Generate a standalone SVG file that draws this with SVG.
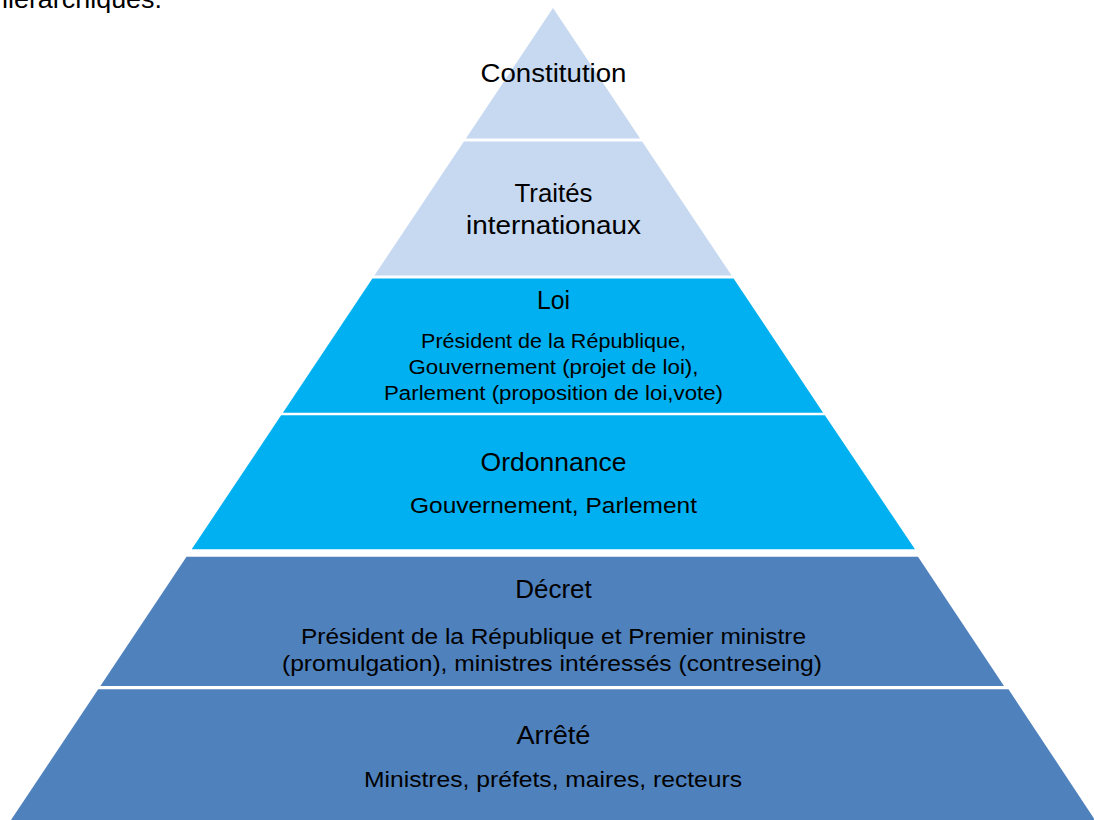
<svg xmlns="http://www.w3.org/2000/svg" width="1094" height="820" viewBox="0 0 1094 820">
  <style>
    .light { fill: #C6D9F1; }
    .cyan { fill: #00B0F0; }
    .blue { fill: #4F81BD; }
    text { font-family: "Liberation Sans", Arial, sans-serif; fill: #000000; text-anchor: middle; }
    .title { font-size: 25px; }
    .sub { font-size: 22.5px; }
    .sub2 { font-size: 20px; }
    .hdr { font-size: 25px; text-anchor: start; }
  </style>
  <rect x="0" y="0" width="1094" height="820" fill="#FFFFFF"/>
  <text class="hdr" x="-7" y="8" textLength="169" lengthAdjust="spacingAndGlyphs">hiérarchiques.</text>

  <g id="constitution">
    <polygon class="light" points="553,8 640.1,138.5 465.9,138.5"/>
    <text class="title" x="553.5" y="81.5" textLength="146" lengthAdjust="spacingAndGlyphs">Constitution</text>
  </g>

  <g id="traites">
    <polygon class="light" points="463.9,141.5 642.1,141.5 731.6,275.5 374.4,275.5"/>
    <text class="title" x="553.5" y="202" textLength="78" lengthAdjust="spacingAndGlyphs">Traités</text>
    <text class="title" x="553.5" y="234" textLength="175" lengthAdjust="spacingAndGlyphs">internationaux</text>
  </g>

  <g id="loi">
    <polygon class="cyan" points="372.4,278.5 733.6,278.5 823.1,412.7 282.9,412.7"/>
    <text class="title" x="553.5" y="309" textLength="33" lengthAdjust="spacingAndGlyphs">Loi</text>
    <text class="sub2" x="553.5" y="348.3" textLength="265" lengthAdjust="spacingAndGlyphs">Président de la République,</text>
    <text class="sub2" x="553.5" y="374" textLength="290" lengthAdjust="spacingAndGlyphs">Gouvernement (projet de loi),</text>
    <text class="sub2" x="553.5" y="400" textLength="339" lengthAdjust="spacingAndGlyphs">Parlement (proposition de loi,vote)</text>
  </g>

  <g id="ordonnance">
    <polygon class="cyan" points="281.1,415.3 824.9,415.3 915,549.3 191.7,549.3"/>
    <text class="title" x="553.5" y="470.7" textLength="146" lengthAdjust="spacingAndGlyphs">Ordonnance</text>
    <text class="sub" x="553.5" y="512.7" textLength="287" lengthAdjust="spacingAndGlyphs">Gouvernement, Parlement</text>
  </g>

  <g id="decret">
    <polygon class="blue" points="186.5,556.7 918,556.7 1004,686 100.4,686"/>
    <text class="title" x="553.5" y="598" textLength="76.5" lengthAdjust="spacingAndGlyphs">Décret</text>
    <text class="sub" x="553.5" y="644.4" textLength="505" lengthAdjust="spacingAndGlyphs">Président de la République et Premier ministre</text>
    <text class="sub" x="552" y="671" textLength="540" lengthAdjust="spacingAndGlyphs">(promulgation), ministres intéressés (contreseing)</text>
  </g>

  <g id="arrete">
    <polygon class="blue" points="98.2,689.3 1008.5,689.3 1095,820 11,820"/>
    <text class="title" x="553.5" y="744" textLength="74" lengthAdjust="spacingAndGlyphs">Arrêté</text>
    <text class="sub" x="553" y="786.5" textLength="378" lengthAdjust="spacingAndGlyphs">Ministres, préfets, maires, recteurs</text>
  </g>
</svg>
